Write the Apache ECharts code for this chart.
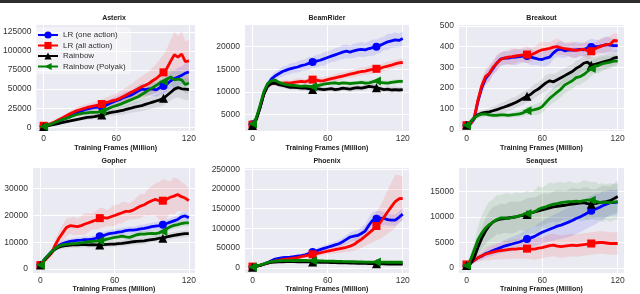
<!DOCTYPE html>
<html><head><meta charset="utf-8">
<script src="https://cdn.jsdelivr.net/npm/echarts@6/dist/echarts.min.js"></script>
<style>html,body{margin:0;padding:0;background:#fff}#c{width:640px;height:294px}</style>
</head><body><div id="c"></div><script>
// ---------------- data ----------------
const frames = [0,3,6,9,12,15,18,21,24,27,30,33,36,39,42,45,48,51,54,57,60,63,66,69,72,75,78,81,84,87,90,93,96,99,102,105,108,111,114,117,120];
const seriesNames = ['LR (one action)','LR (all action)','Rainbow','Rainbow (Polyak)'];
const panelTitles = ['Asterix','BeamRider','Breakout','Gopher','Phoenix','Seaquest'];
const xAxisTitle = 'Training Frames (Million)';
const xTicks = [0,60,120];
const asterixTicks = [0,25000,50000,75000,100000,125000];
const beamRiderTicks = [5000,10000,15000,20000];
const breakoutTicks = [0,100,200,300,400,500];
const gopherTicks = [0,10000,20000,30000];
const phoenixTicks = [0,50000,100000,150000,200000,250000];
const seaquestTicks = [0,5000,10000,15000];
const markerIdx = [0,16,33];

// Asterix
const asterixOne = [1500,2500,4000,5500,7500,9500,11500,14000,16500,19000,21000,22500,24000,25000,26000,26500,27000,28500,31000,33000,35000,36500,39000,40500,42000,44500,47500,50000,49500,50500,50000,49000,52000,54000,57000,61000,64000,66000,68000,71000,72500];
const asterixAll = [2000,3500,5000,7000,9500,12000,14500,17000,19500,21500,23000,24500,26000,27000,28000,29000,30500,32000,33500,35000,36000,38000,40500,43000,45500,48000,50500,53000,55000,57500,61000,64000,68000,72000,78000,87000,95000,92000,96000,86000,87000];
const asterixRainbow = [1000,2000,3000,4000,5000,6000,7000,8000,9000,10000,11000,12000,13000,13500,14000,15000,16000,17500,19000,20000,20500,21500,22500,24000,25000,26500,27500,28500,30000,31500,33000,34500,36000,38000,42000,46000,50000,52000,50500,50000,49500];
const asterixPolyak = [1000,2500,4000,6000,8000,10000,11500,13000,15000,16500,17500,18500,19000,19500,19500,20000,21000,22500,25000,27000,28500,30000,32000,34000,36000,38000,40000,43000,46000,49000,52000,55000,58000,60000,63000,66000,62000,63000,62000,56000,58000];
const asterixOneSd = [300,500,800,1000,1400,1800,2200,2600,3000,3200,3500,3800,4000,4200,4400,4600,4800,5000,5200,5500,5800,6000,6300,6500,6800,7000,7300,7600,8000,8300,8600,9000,9500,10000,10500,11000,11500,12000,12000,12500,13000];
const asterixAllSd = [500,800,1200,1600,2000,2500,3000,3400,3800,4200,4500,4800,5000,5300,5600,6000,6300,6800,7200,7800,8400,9000,9500,10000,11000,12000,13000,14000,15000,16000,17000,19000,21000,23000,26000,28000,30000,27000,30000,26000,28000];
const asterixRainbowSd = [300,500,700,900,1100,1300,1500,1800,2000,2200,2500,2800,3000,3200,3500,3800,4000,4200,4500,4800,5000,5300,5600,6000,6300,6600,7000,7300,7600,8000,8300,8600,9000,9500,10000,11000,12000,13000,13000,14000,14000];
const asterixPolyakSd = [300,500,800,1000,1300,1600,1900,2200,2500,2800,3000,3200,3400,3600,3800,4000,4200,4500,4800,5000,5300,5600,6000,6300,6600,7000,7300,7600,8000,8300,8600,9000,9300,9600,10000,10500,11000,11000,11500,12000,12000];

// BeamRider
const beamOne = [2800,4000,6500,9500,11500,12800,13500,14000,14500,14800,15100,15300,15500,15800,16000,16300,16600,16800,17000,17300,17600,17900,18200,18500,18800,19000,18800,19100,19300,19400,19300,19600,19800,20000,20300,20700,21100,21300,21500,21400,21800];
const beamAll = [2700,4000,6500,9500,11300,11900,12000,11800,11900,12000,11900,12100,12200,12300,12200,12500,12700,12600,12400,12500,12700,12900,13100,13300,13500,13700,13900,14100,14300,14500,14600,14800,15000,15100,15200,15500,15700,15900,16200,16400,16500];
const beamRainbow = [2500,3800,6500,9500,11200,11800,11900,11600,11400,11200,11000,11000,10900,10800,10800,10700,10500,10700,10600,10500,10600,10700,10500,10600,10800,10700,10600,10800,10900,10800,11000,11200,11100,10900,10700,10500,10600,10400,10500,10400,10500];
const beamPolyak = [2900,4200,7000,10000,11800,12400,12600,12100,11800,11600,11500,11400,11300,11200,11300,11200,11100,11300,11500,11700,11800,11900,12000,11800,12000,11900,11800,11900,12000,12100,11900,12000,12200,12400,12100,12000,11900,12100,12200,12300,12300];
const beamOneSd = [300,500,800,900,900,800,900,1000,1100,1000,1200,1100,1300,1200,1300,1400,1200,1400,1300,1500,1400,1300,1500,1400,1600,1500,1400,1600,1500,1700,1500,1600,1800,1600,1700,1500,1800,1600,1700,1500,1600];
const beamAllSd = [300,500,700,800,700,600,600,700,600,700,600,700,800,700,600,700,800,700,800,700,800,700,800,900,800,700,800,900,800,900,800,900,1000,900,800,900,1000,900,800,900,900];
const beamRainbowSd = [300,500,700,700,600,500,500,600,500,600,500,600,500,600,500,600,500,600,700,600,500,600,700,600,500,600,700,600,700,600,700,600,700,800,700,600,700,800,700,600,700];
const beamPolyakSd = [300,500,700,700,600,500,500,500,400,500,400,500,400,500,400,500,400,500,600,500,400,500,600,500,400,500,600,500,400,500,600,500,600,500,600,500,600,500,600,500,600];

// Breakout
const breakoutOne = [20,28,50,135,200,245,268,295,320,340,345,345,348,350,352,355,355,350,345,340,338,345,350,370,385,388,380,385,383,385,387,385,395,398,400,402,405,410,408,405,405];
const breakoutAll = [20,25,55,140,210,255,270,300,320,338,345,350,352,355,358,360,362,360,368,378,385,388,392,398,400,395,390,388,385,382,385,388,380,378,390,398,405,410,412,430,428];
const breakoutRainbow = [20,35,55,70,78,82,85,90,95,102,108,115,122,130,140,150,160,170,185,195,210,225,235,230,240,250,260,270,280,295,305,320,325,310,315,320,325,330,335,345,350];
const breakoutPolyak = [20,35,55,68,74,75,70,68,68,70,70,68,70,72,75,80,90,92,95,100,110,130,150,165,180,195,215,225,235,250,255,265,280,295,305,310,318,322,325,330,330];
const breakoutOneSd = [10,15,20,25,30,30,35,30,35,30,35,30,35,40,35,30,35,40,35,30,35,40,35,30,35,40,35,30,35,40,35,30,35,40,35,30,35,40,35,30,30];
const breakoutAllSd = [10,15,25,30,35,35,40,35,40,35,30,35,40,35,30,35,40,35,30,35,40,35,30,35,40,35,30,35,40,35,30,35,40,35,30,35,40,35,40,35,35];
const breakoutRainbowSd = [10,12,15,15,15,15,18,20,22,25,25,28,30,28,30,32,30,32,35,32,35,38,35,38,35,38,35,38,35,38,35,38,40,38,35,38,35,38,35,38,35];
const breakoutPolyakSd = [10,12,15,15,15,12,12,12,12,12,12,12,12,15,15,18,20,22,25,28,30,32,35,35,38,38,40,38,40,38,40,38,40,38,35,38,35,32,30,28,25];

// Gopher
const gopherOne = [1500,3500,5000,6500,7800,8800,9500,10000,10300,10500,10700,10800,11000,11000,11200,11500,12200,12500,13000,13300,13500,13800,14000,14300,14500,14500,14700,15000,15200,15500,15800,16000,16200,16500,17000,17500,18000,18500,19500,19800,19200];
const gopherAll = [1500,3000,4500,6000,9000,11500,13500,15500,16200,16000,15800,16200,16800,17300,17800,18300,19000,19200,19000,19500,20000,20500,21000,21500,21500,22000,22800,23500,24000,24800,25500,26000,25500,25500,26000,26800,27200,27800,27000,26500,25500];
const gopherRainbow = [1500,3300,4800,6300,7500,8200,8600,8800,8900,9000,9000,9100,9100,9000,9100,9000,9000,9100,9200,9300,9300,9500,9600,9800,10000,10200,10300,10400,10500,10800,11000,11200,11500,11500,12000,12300,12600,12800,13000,13200,13200];
const gopherPolyak = [1500,3500,5000,6500,7800,8600,9000,9200,9400,9500,9600,9800,10000,10200,10300,10400,10500,10800,11200,11500,11800,12000,12300,12000,11800,12300,12800,13000,13000,13200,13300,13200,13500,14000,15000,15800,16300,16600,17000,17200,17200];
const gopherOneSd = [300,500,700,800,900,1000,1000,1100,1000,1100,1200,1100,1200,1100,1200,1300,1200,1300,1200,1300,1400,1300,1400,1300,1400,1300,1400,1500,1400,1500,1400,1500,1600,1500,1600,1500,1600,1500,1600,1500,1500];
const gopherAllSd = [400,800,1200,1600,2000,2500,3000,3500,3000,3500,3000,3500,4000,3500,3000,3500,4000,3500,3000,3500,4000,3500,4000,3500,3000,3500,4000,4500,4000,5000,5500,6000,7000,8000,7000,6000,7000,6000,5500,5000,4500];
const gopherRainbowSd = [300,500,700,800,900,1000,1000,1000,1000,1000,1000,1100,1000,1100,1000,1100,1000,1100,1000,1100,1200,1100,1200,1100,1200,1100,1200,1100,1200,1100,1200,1300,1200,1300,1200,1300,1200,1300,1200,1300,1200];
const gopherPolyakSd = [300,500,700,800,900,900,1000,900,1000,900,1000,1100,1000,1100,1000,1100,1000,1100,1200,1100,1200,1100,1200,1100,1200,1100,1200,1100,1200,1100,1200,1300,1200,1300,1200,1300,1200,1300,1200,1300,1200];

// Phoenix
const phoenixOne = [2000,4000,6000,9000,13000,18000,22000,24000,25500,26500,27000,28000,29500,31000,33000,36000,40000,43000,46000,49000,52000,55000,58000,61000,66000,72000,78000,80000,82000,87000,93000,108000,120000,124000,126000,125000,122000,121000,121000,128000,136000];
const phoenixAll = [3000,4000,6000,9000,12000,15000,17000,19000,20500,22000,23000,24500,26000,28000,30000,32000,34000,36000,38000,40000,42000,44000,46000,48000,50000,52000,55000,59000,66000,72000,80000,88000,96000,106000,115000,128000,142000,155000,168000,175000,176000];
const phoenixRainbow = [1500,3500,6000,9000,11500,13500,14500,15000,15300,15500,15500,15500,15300,15200,15000,14800,14500,14200,14000,13700,13500,13200,13000,12800,12500,12300,12000,11700,11500,11200,11000,10700,10500,10000,9800,9700,9600,9500,9500,9400,9300];
const phoenixPolyak = [2000,4000,7000,10000,13000,15500,17000,17500,18000,18000,18200,18500,18500,18500,18500,18300,18000,17800,17500,17200,17000,16800,16500,16300,16000,15800,15500,15300,15000,14800,14500,14300,14200,14500,14300,14200,14000,14000,14100,14000,14000];
const phoenixOneSd = [500,800,1000,1500,2000,2500,3000,3000,3000,3500,3500,4000,4000,4500,5000,5500,6000,6500,7000,7500,8000,8500,9000,9500,10000,11000,12000,13000,14000,16000,18000,20000,22000,20000,18000,16000,15000,14000,14000,15000,16000];
const phoenixAllSd = [500,800,1000,1500,2000,2500,3000,3000,3000,3500,3500,4000,4000,4500,5000,5500,6000,6500,7000,7500,8000,8500,9000,10000,11000,12000,14000,16000,19000,22000,25000,28000,32000,36000,42000,48000,55000,62000,68000,60000,55000];
const phoenixRainbowSd = [300,500,800,1000,1200,1400,1500,1600,1500,1700,1600,1500,1700,1600,1500,1700,1600,1500,1700,1600,1500,1700,1600,1500,1700,1600,1500,1700,1600,1500,1700,1600,1500,1700,1600,1500,1700,1600,1500,1700,1600];
const phoenixPolyakSd = [300,500,800,1000,1300,1500,1700,1800,1700,1900,1800,1700,1900,1800,1700,1900,1800,1700,1900,1800,1700,1900,1800,1700,1900,1800,1700,1900,1800,1700,1900,1800,1700,1900,1800,1700,1900,1800,1700,1900,1800];

// Seaquest
const seaquestOne = [500,1000,1500,2000,2300,2800,3100,3400,3700,4000,4300,4500,4700,4900,5100,5400,5700,5900,6200,6600,7000,7300,7600,7900,8200,8400,8700,9000,9300,9700,10000,10400,10800,11200,11500,11800,12200,12500,12800,12800,12900];
const seaquestAll = [700,1000,1500,2000,2400,2700,2900,3100,3300,3400,3500,3600,3700,3700,3800,3800,3800,3700,3700,3900,4000,4200,4400,4500,4300,4200,4300,4400,4500,4400,4500,4600,4700,4800,4900,5000,5000,4900,4800,4800,4800];
const seaquestRainbow = [500,800,2000,4000,5800,7200,8300,9000,9400,9600,9700,9800,9900,10000,10200,10300,10500,10800,11000,11200,11400,11600,11800,12000,12100,12200,12300,12400,12500,12600,12700,12800,12600,12500,12600,12800,12900,13000,13200,13600,14000];
const seaquestPolyak = [500,1500,3500,5500,6800,7800,8500,9000,9500,9800,9800,9700,9900,10000,10200,10500,10700,10800,11000,11500,11800,12000,12300,12500,12600,12800,12900,13000,13000,13100,13000,13200,13300,13300,13100,12900,12800,12900,12800,12900,13000];
const seaquestOneSd = [200,400,500,600,700,800,900,1000,1000,1100,1200,1300,1400,1500,1600,1700,1800,1900,2000,2100,2200,2300,2400,2500,2600,2700,2800,2900,3000,3000,3000,3000,3000,3000,3000,2800,2800,2600,2600,2500,2500];
const seaquestAllSd = [200,400,600,800,1000,1200,1400,1500,1600,1700,1800,1800,1900,1900,2000,2000,2000,2000,2100,2100,2100,2100,2200,2200,2200,2200,2200,2200,2200,2200,2200,2200,2200,2200,2200,2200,2200,2200,2200,2200,2200];
const seaquestRainbowSd = [200,500,1000,1500,2000,2500,2800,3000,2800,3000,2800,3000,3200,3000,2800,3000,3200,3000,2800,3000,3200,3000,2800,3000,3200,3000,2800,3000,3200,3000,2800,3000,3200,3000,2800,3000,3200,3000,2800,3000,3000];
const seaquestPolyakSd = [200,800,1500,2500,3500,4000,4500,4500,4800,4500,4800,5000,4500,4800,4500,4200,4500,4000,4200,4500,4000,4200,4500,4000,4200,4000,3800,4000,3800,3500,3800,4000,3800,3500,3800,3500,3800,3500,3800,3500,3500];

// ---------------- layout / style ----------------
const FONT = '"Liberation Sans", Arial, Helvetica, sans-serif';
const lineColors = ['#0000ff','#ff0000','#000000','#008000'];
const bandColors = ['rgba(0,0,255,0.10)','rgba(255,0,0,0.10)','rgba(0,0,0,0.08)','rgba(0,128,0,0.10)'];
const symbols = ['circle','rect','triangle','path://M0,5L10,0L10,10Z'];
const symbolSizes = [8,8,9,9];

const panels = [
  {lines:[asterixOne,asterixAll,asterixRainbow,asterixPolyak], sds:[asterixOneSd,asterixAllSd,asterixRainbowSd,asterixPolyakSd], ticks:asterixTicks, yMin:-4800, yMax:134000, box:{left:33,top:25,width:162,height:106}, nameGap:14, titleTop:15},
  {lines:[beamOne,beamAll,beamRainbow,beamPolyak], sds:[beamOneSd,beamAllSd,beamRainbowSd,beamPolyakSd], ticks:beamRiderTicks, yMin:1300, yMax:24820, box:{left:245,top:25,width:164,height:106}, nameGap:14, titleTop:15},
  {lines:[breakoutOne,breakoutAll,breakoutRainbow,breakoutPolyak], sds:[breakoutOneSd,breakoutAllSd,breakoutRainbowSd,breakoutPolyakSd], ticks:breakoutTicks, yMin:-8, yMax:505, box:{left:459,top:25,width:165,height:106}, nameGap:14, titleTop:15},
  {lines:[gopherOne,gopherAll,gopherRainbow,gopherPolyak], sds:[gopherOneSd,gopherAllSd,gopherRainbowSd,gopherPolyakSd], ticks:gopherTicks, yMin:-1500, yMax:37700, box:{left:33,top:168,width:162,height:108}, nameGap:10.5, titleTop:157.5},
  {lines:[phoenixOne,phoenixAll,phoenixRainbow,phoenixPolyak], sds:[phoenixOneSd,phoenixAllSd,phoenixRainbowSd,phoenixPolyakSd], ticks:phoenixTicks, yMin:-13500, yMax:253000, box:{left:245,top:168,width:164,height:108}, nameGap:10.5, titleTop:157.5},
  {lines:[seaquestOne,seaquestAll,seaquestRainbow,seaquestPolyak], sds:[seaquestOneSd,seaquestAllSd,seaquestRainbowSd,seaquestPolyakSd], ticks:seaquestTicks, yMin:-1000, yMax:19600, box:{left:459,top:168,width:165,height:108}, nameGap:10.5, titleTop:157.5}
];

const plain = v => String(Math.round(v));
const grids = [], xAxes = [], yAxes = [], titles = [], series = [];
panels.forEach((p, i) => {
  grids.push(Object.assign({show:true, backgroundColor:'#EAEAF2', borderWidth:0, containLabel:false}, p.box));
  titles.push({text: panelTitles[i], left: p.box.left + p.box.width/2, top: p.titleTop, textAlign:'center', padding:0,
    textStyle:{fontSize:7, fontWeight:'bold', color:'#222', fontFamily:FONT}});
  xAxes.push({type:'value', gridIndex:i, min:-6, max:125,
    axisLine:{show:false}, axisTick:{show:false, customValues:xTicks},
    axisLabel:{customValues:xTicks, formatter:plain, fontSize:8.5, color:'#333', margin:3, fontFamily:FONT},
    splitLine:{show:true, lineStyle:{color:'#ffffff', width:1}},
    name:xAxisTitle, nameLocation:'middle', nameGap:p.nameGap,
    nameTextStyle:{fontSize:7, fontWeight:'bold', color:'#222', fontFamily:FONT}});
  yAxes.push({type:'value', gridIndex:i, min:p.yMin, max:p.yMax,
    axisLine:{show:false}, axisTick:{show:false, customValues:p.ticks},
    axisLabel:{customValues:p.ticks, formatter:plain, fontSize:8.5, color:'#333', margin:5, fontFamily:FONT},
    splitLine:{show:true, lineStyle:{color:'#ffffff', width:1}}});
  for (let k = 0; k < 4; k++) {
    const mean = p.lines[k], sd = p.sds[k];
    series.push({type:'custom', xAxisIndex:i, yAxisIndex:i, silent:true, z:1,
      data:[[frames[0], mean[0]]],
      renderItem:(params, api) => {
        const pts = [];
        for (let j = 0; j < frames.length; j++) pts.push(api.coord([frames[j], mean[j] + sd[j]]));
        for (let j = frames.length - 1; j >= 0; j--) pts.push(api.coord([frames[j], mean[j] - sd[j]]));
        return {type:'polygon', shape:{points:pts}, style:{fill:bandColors[k]}};
      }});
  }
  for (let k = 0; k < 4; k++) {
    const mean = p.lines[k];
    series.push({type:'line', name:seriesNames[k], xAxisIndex:i, yAxisIndex:i, z:3,
      data: frames.map((f, j) => [f, mean[j]]),
      symbol: symbols[k],
      symbolSize: (v, prm) => markerIdx.includes(prm.dataIndex) ? symbolSizes[k] : 0,
      showSymbol:true, showAllSymbol:true, silent:true,
      lineStyle:{color:lineColors[k], width:2.8},
      itemStyle:{color:lineColors[k], borderWidth:0},
      emphasis:{disabled:true}});
  }
});

const chart = echarts.init(document.getElementById('c'), null, {renderer:'canvas'});
chart.setOption({
  animation:false,
  backgroundColor:'#ffffff',
  textStyle:{fontFamily:FONT},
  graphic:[{type:'rect', left:0, top:0, shape:{width:640, height:3}, style:{fill:'#2e2e2e'}, silent:true}],
  title: titles,
  legend:{data:seriesNames, orient:'vertical', left:34, top:28, itemWidth:20, itemHeight:9, itemGap:2.5,
    padding:[3,5,3,3], backgroundColor:'rgba(255,255,255,0.35)', borderColor:'rgba(255,255,255,0.6)',
    borderWidth:0.8, borderRadius:3, selectedMode:false,
    textStyle:{fontSize:8, color:'#333', fontFamily:FONT}},
  grid: grids, xAxis: xAxes, yAxis: yAxes, series: series
});
</script></body></html>
